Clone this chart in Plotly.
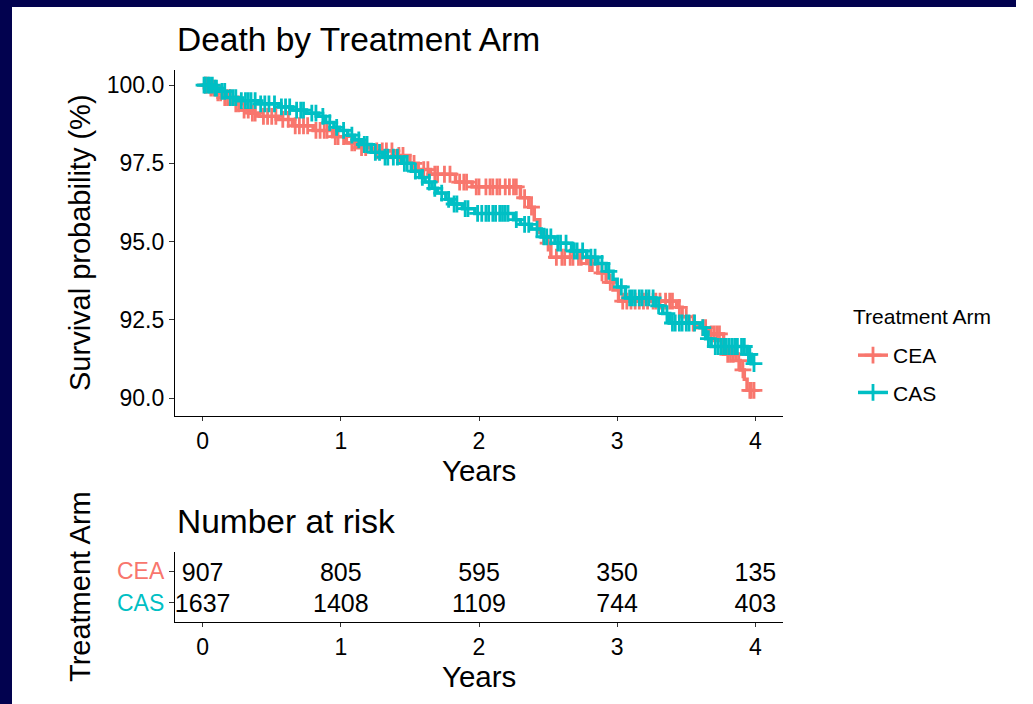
import numpy as np
import plotly.graph_objects as go

# ---------------- data ----------------
arms = ["CEA", "CAS"]
arm_colors = {"CEA": "#F8766D", "CAS": "#00BFC4"}

# Kaplan-Meier steps (time in years, survival in %)
cea_time = [0.00, 0.05, 0.10, 0.15, 0.22, 0.27, 0.35, 0.41, 0.55, 0.65, 0.80, 0.94, 1.04, 1.12,
            1.22, 1.40, 1.50, 1.56, 1.65, 1.83, 1.95, 2.30, 2.36, 2.40, 2.44, 2.47, 2.52, 2.78,
            2.86, 2.92, 2.97, 3.01, 3.43, 3.47, 3.52, 3.58, 3.66, 3.77, 3.86, 3.89, 3.92, 3.94]
cea_surv = [100.0, 99.9, 99.75, 99.6, 99.4, 99.2, 99.1, 99.0, 98.9, 98.7, 98.55, 98.35, 98.15, 98.0,
            97.9, 97.75, 97.5, 97.3, 97.15, 96.9, 96.75, 96.4, 96.1, 95.7, 95.3, 94.95, 94.5, 94.3,
            94.0, 93.7, 93.45, 93.1, 92.9, 92.6, 92.4, 92.25, 92.05, 91.4, 91.2, 90.9, 90.6, 90.25]
cea_last = 4.0
cea_censor = [0.02, 0.03, 0.06, 0.08, 0.11, 0.13, 0.16, 0.18, 0.20, 0.24, 0.26, 0.30, 0.33, 0.36,
              0.38, 0.44, 0.47, 0.50, 0.53, 0.58, 0.62, 0.67, 0.70, 0.73, 0.76, 0.82, 0.85, 0.88,
              0.90, 0.96, 0.98, 1.02, 1.08, 1.10, 1.15, 1.18, 1.26, 1.30, 1.33, 1.37, 1.42, 1.45,
              1.53, 1.60, 1.63, 1.68, 1.70, 1.75, 1.79, 1.86, 1.89, 1.91, 1.98, 2.00, 2.05, 2.08,
              2.10, 2.13, 2.15, 2.19, 2.22, 2.25, 2.27, 2.33, 2.38, 2.50, 2.56, 2.60, 2.62, 2.66,
              2.68, 2.72, 2.74, 2.80, 2.82, 2.89, 2.95, 3.04, 3.07, 3.10, 3.13, 3.16, 3.19, 3.22,
              3.26, 3.28, 3.31, 3.35, 3.38, 3.40, 3.45, 3.50, 3.55, 3.62, 3.64, 3.68, 3.70, 3.72,
              3.74, 3.80, 3.82, 3.84, 3.88, 3.91, 3.96, 3.97, 3.99]

cas_time = [0.00, 0.08, 0.12, 0.17, 0.25, 0.40, 0.55, 0.65, 0.75, 0.84, 0.89, 0.95, 0.99, 1.05,
            1.10, 1.15, 1.22, 1.30, 1.44, 1.51, 1.57, 1.61, 1.66, 1.70, 1.76, 1.80, 1.88, 1.97,
            2.25, 2.30, 2.38, 2.45, 2.55, 2.67, 2.78, 2.86, 2.92, 2.97, 3.00, 3.06, 3.28, 3.33,
            3.38, 3.60, 3.64, 3.68, 3.94, 3.97]
cas_surv = [100.0, 99.9, 99.8, 99.6, 99.5, 99.4, 99.3, 99.2, 99.1, 99.0, 98.8, 98.65, 98.55, 98.4,
            98.25, 98.1, 97.85, 97.7, 97.5, 97.25, 97.05, 96.9, 96.7, 96.55, 96.35, 96.2, 96.05, 95.9,
            95.7, 95.55, 95.4, 95.15, 94.95, 94.7, 94.5, 94.3, 94.05, 93.8, 93.55, 93.2, 92.95, 92.7,
            92.4, 92.25, 91.9, 91.65, 91.4, 91.1]
cas_last = 4.0
cas_censor = [0.01, 0.02, 0.04, 0.05, 0.07, 0.09, 0.10, 0.14, 0.16, 0.20, 0.22, 0.24, 0.28, 0.31,
              0.33, 0.35, 0.38, 0.42, 0.45, 0.48, 0.52, 0.57, 0.60, 0.63, 0.68, 0.71, 0.73, 0.79,
              0.82, 0.87, 0.92, 0.97, 1.02, 1.08, 1.13, 1.17, 1.19, 1.25, 1.28, 1.32, 1.34, 1.38,
              1.41, 1.46, 1.48, 1.54, 1.59, 1.64, 1.68, 1.73, 1.78, 1.82, 1.84, 1.90, 1.92, 1.99,
              2.02, 2.05, 2.07, 2.10, 2.12, 2.15, 2.17, 2.19, 2.21, 2.27, 2.33, 2.36, 2.42, 2.47,
              2.49, 2.52, 2.57, 2.59, 2.63, 2.69, 2.71, 2.75, 2.81, 2.84, 2.89, 2.94, 3.03, 3.09,
              3.11, 3.13, 3.16, 3.18, 3.21, 3.23, 3.26, 3.30, 3.36, 3.40, 3.42, 3.45, 3.47, 3.50,
              3.52, 3.56, 3.62, 3.66, 3.71, 3.73, 3.75, 3.77, 3.79, 3.81, 3.83, 3.85, 3.87, 3.90,
              3.92, 3.95, 3.96, 3.99]

# Number at risk table
risk_times = [0, 1, 2, 3, 4]
cea_risk = [907, 805, 595, 350, 135]
cas_risk = [1637, 1408, 1109, 744, 403]

x_ticks = [0, 1, 2, 3, 4]
y_ticks = [90.0, 92.5, 95.0, 97.5, 100.0]

# ---------------- figure ----------------
W, H = 1033, 704
def px(x):
    return x / W
def py(y):
    return 1 - y / H

FONT = "Liberation Sans, Arial, sans-serif"
fig = go.Figure()

def surv_at(times, survs, t):
    idx = np.searchsorted(np.array(times), t, side="right") - 1
    return np.array(survs)[idx]

series = {
    "CEA": (cea_time, cea_surv, cea_last, cea_censor),
    "CAS": (cas_time, cas_surv, cas_last, cas_censor),
}
MS, MW, LW = 12, 2.8, 3.5
for arm in arms:
    t, s, last, cens = series[arm]
    col = arm_colors[arm]
    fig.add_trace(go.Scatter(
        x=list(t) + [last], y=list(s) + [s[-1]], mode="lines",
        line=dict(color=col, width=LW, shape="hv"), showlegend=False,
        legendgroup=arm, hoverinfo="skip", xaxis="x", yaxis="y"))
    cens = np.array(cens)
    fig.add_trace(go.Scatter(
        x=cens, y=surv_at(t, s, cens), mode="markers",
        marker=dict(symbol="cross-thin", size=MS, line=dict(color=col, width=MW)),
        showlegend=False, legendgroup=arm, hoverinfo="skip", xaxis="x", yaxis="y"))

for arm in arms:
    col = arm_colors[arm]
    fig.add_trace(go.Scatter(
        x=[None], y=[None], mode="lines+markers", name=arm, legendgroup=arm,
        line=dict(color=col, width=LW),
        marker=dict(symbol="cross-thin", size=MS, line=dict(color=col, width=MW)),
        xaxis="x", yaxis="y"))

# risk table
risk_y = {"CEA": 2, "CAS": 1}
for arm, vals in (("CEA", cea_risk), ("CAS", cas_risk)):
    fig.add_trace(go.Scatter(
        x=risk_times, y=[risk_y[arm] - 0.1] * len(risk_times), mode="text",
        text=[str(v) for v in vals], textposition="middle center",
        textfont=dict(size=25, color="black", family=FONT),
        showlegend=False, hoverinfo="skip", xaxis="x2", yaxis="y2"))

x_dom = [px(175), px(783)]
axis_common = dict(showline=True, linecolor="black", linewidth=1.3, ticks="outside",
                   tickwidth=1.2, tickcolor="#333333", showgrid=False,
                   zeroline=False, tickfont=dict(size=23, color="black", family=FONT))

fig.update_layout(
    width=W, height=H, margin=dict(l=0, r=0, t=0, b=0),
    paper_bgcolor="white", plot_bgcolor="white",
    font=dict(family=FONT, color="black"),
    xaxis=dict(domain=x_dom, range=[-0.2, 4.2], tickvals=x_ticks, anchor="y",
               ticklen=4, **axis_common),
    yaxis=dict(domain=[py(416), py(70)], range=[89.43, 100.48], tickvals=y_ticks,
               tickformat=".1f", anchor="x", ticklen=5, **axis_common),
    xaxis2=dict(domain=x_dom, range=[-0.2, 4.2], tickvals=x_ticks, anchor="y2",
                ticklen=4, **axis_common),
    yaxis2=dict(domain=[py(622), py(552)], range=[0.4, 2.6], tickvals=[2, 1],
                ticktext=['<span style="color:%s">CEA</span>' % arm_colors["CEA"],
                          '<span style="color:%s">CAS</span>' % arm_colors["CAS"]],
                anchor="x2", ticklen=5, **axis_common),
    legend=dict(x=px(853), y=py(335), xanchor="left", yanchor="top",
                font=dict(size=21, family=FONT), tracegroupgap=7, bgcolor="rgba(0,0,0,0)"),
    showlegend=True,
)

annos = [
    dict(text="Death by Treatment Arm", x=px(175), y=py(40), xanchor="left", yanchor="middle", size=33.5, angle=0),
    dict(text="Survival probability (%)", x=px(80), y=py(243), xanchor="center", yanchor="middle", size=29, angle=-90),
    dict(text="Years", x=px(479), y=py(470), xanchor="center", yanchor="middle", size=29.5, angle=0),
    dict(text="Number at risk", x=px(175), y=py(521), xanchor="left", yanchor="middle", size=33.5, angle=0),
    dict(text="Treatment Arm", x=px(80), y=py(587), xanchor="center", yanchor="middle", size=29, angle=-90),
    dict(text="Years", x=px(479), y=py(676), xanchor="center", yanchor="middle", size=29.5, angle=0),
    dict(text="Treatment Arm", x=px(851), y=py(317), xanchor="left", yanchor="middle", size=21, angle=0),
]
for a in annos:
    fig.add_annotation(text=a["text"], x=a["x"], y=a["y"], xref="paper", yref="paper",
                       xanchor=a["xanchor"], yanchor=a["yanchor"], textangle=a["angle"],
                       showarrow=False, font=dict(size=a["size"], color="black", family=FONT))

# navy frame on top and left edges
NAVY = "#02024F"
fig.add_shape(type="rect", xref="paper", yref="paper", x0=0, x1=px(1016), y0=py(7), y1=1,
              fillcolor=NAVY, line=dict(width=0), layer="above")
fig.add_shape(type="rect", xref="paper", yref="paper", x0=0, x1=px(12), y0=0, y1=1,
              fillcolor=NAVY, line=dict(width=0), layer="above")

fig.write_html("out.html", config={"displayModeBar": False},
               post_script="document.body.style.margin='0';"
                           "document.documentElement.style.overflow='hidden';"
                           "document.body.style.overflow='hidden';")
